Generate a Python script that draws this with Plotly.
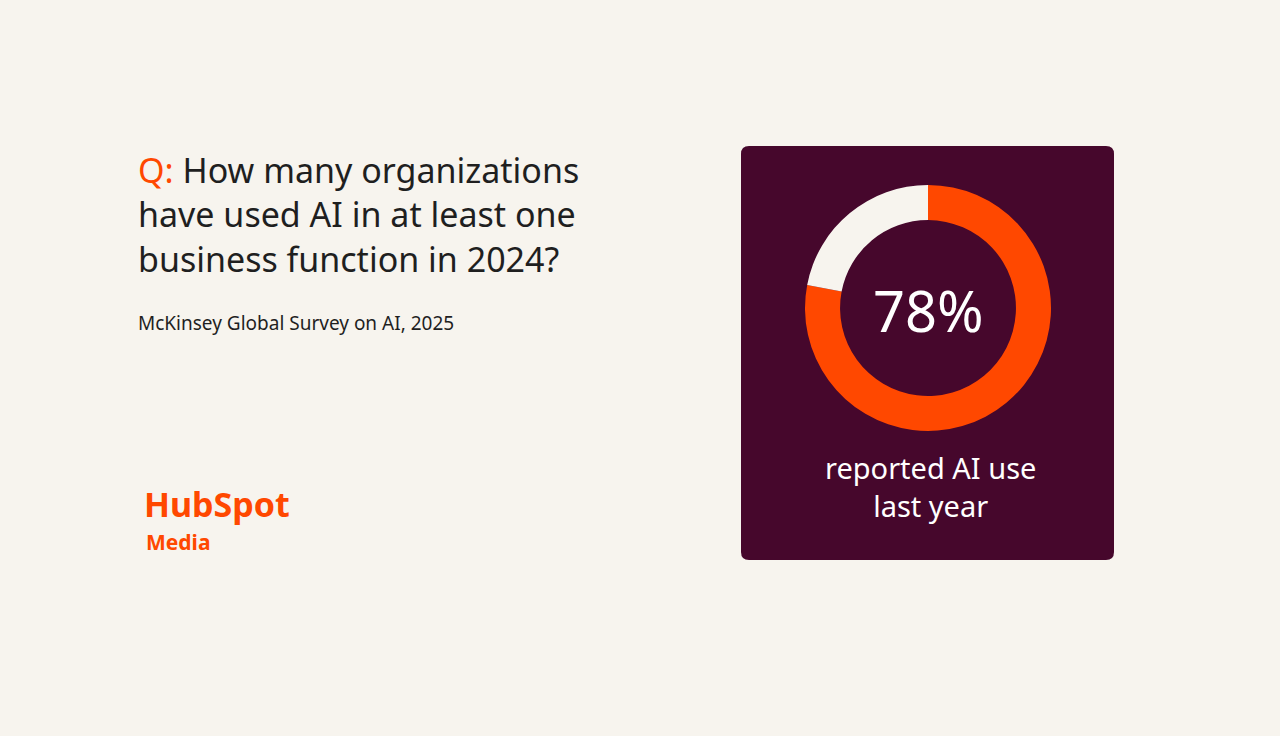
import plotly.graph_objects as go

labels = ["Used AI", "Did not use AI"]
values = [78, 22]
headline = "78%"
caption = "reported AI use<br>last year"
source = "McKinsey Global Survey on AI, 2025"
question_lines = [
    f"<span style='color:#ff4800'>Q:</span> How many organizations",
    "have used AI in at least one",
    "business function in 2024?",
]
question_y = [170, 214, 259]

W, H = 1280, 736
BG = "#f7f4ee"
PLUM = "#46072c"
ORANGE = "#ff4800"
FONT = "Noto Sans"

def px(x):
    return x / W

def py(y):
    return 1 - y / H

fig = go.Figure()
fig.add_trace(go.Pie(
    labels=labels, values=values, hole=0.715, sort=False, direction="clockwise",
    rotation=0, marker=dict(colors=[ORANGE, BG], line=dict(width=0)),
    textinfo="none", hoverinfo="label+percent", showlegend=False,
    domain=dict(x=[px(805), px(1051)], y=[py(431), py(185)]),
))

# rounded card behind the donut
x0, x1, y0, y1, r = px(741), px(1114), py(560), py(146), 8
rx, ry = r / W, r / H
path = (f"M{x0+rx},{y0} L{x1-rx},{y0} Q{x1},{y0} {x1},{y0+ry} L{x1},{y1-ry} Q{x1},{y1} {x1-rx},{y1} "
        f"L{x0+rx},{y1} Q{x0},{y1} {x0},{y1-ry} L{x0},{y0+ry} Q{x0},{y0} {x0+rx},{y0} Z")
fig.add_shape(type="path", path=path, xref="paper", yref="paper",
              fillcolor=PLUM, line=dict(width=0), layer="below")

ann = [dict(x=px(136), y=py(yy), xanchor="left", yanchor="middle", text=t,
            font=dict(size=34, color="#1f1f1f", family=FONT))
       for t, yy in zip(question_lines, question_y)]
ann += [
    dict(x=px(136), y=py(323), xanchor="left", yanchor="middle", text=source,
         font=dict(size=19, color="#1f1f1f", family=FONT)),
    dict(x=px(142), y=py(504), xanchor="left", yanchor="middle", text="<b>HubSpot</b>",
         font=dict(size=34, color=ORANGE, family=FONT)),
    dict(x=px(144), y=py(542), xanchor="left", yanchor="middle", text="<b>Media</b>",
         font=dict(size=21, color=ORANGE, family=FONT)),
    dict(x=px(928), y=py(310), xanchor="center", yanchor="middle", text=headline,
         font=dict(size=56, color="white", family=FONT)),
    dict(x=px(930), y=py(486), xanchor="center", yanchor="middle", text=caption,
         font=dict(size=29, color="white", family=FONT)),
]
for a in ann:
    fig.add_annotation(xref="paper", yref="paper", showarrow=False, **a)

fig.update_layout(width=W, height=H, margin=dict(l=0, r=0, t=0, b=0),
                  paper_bgcolor=BG, plot_bgcolor=BG)
fig.write_html("out.html", config={"displayModeBar": False},
               post_script="document.body.style.margin='0';document.body.style.background='%s';" % BG)
